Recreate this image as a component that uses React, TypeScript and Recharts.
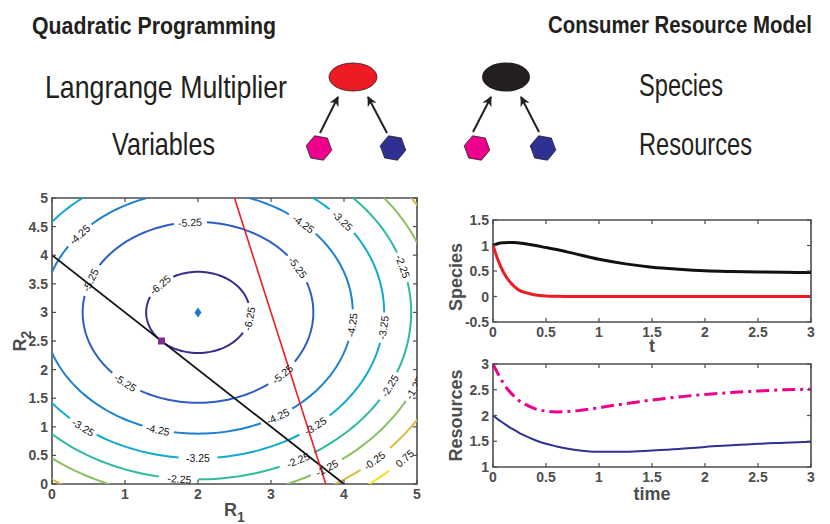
import React from "react";
import { ComposedChart, LineChart, Line, Scatter, XAxis, YAxis, ReferenceArea } from "recharts";

// ---- contour panel (quadratic programming) ----
const contourLevels = [-6.25, -5.25, -4.25, -3.25, -2.25, -1.25, -0.25, 0.75];
const contourRadii = [0.71, 1.58, 2.12, 2.55, 2.92, 3.24, 3.54, 3.81];
const contourColors = ["#382c8c", "#2d5cc2", "#1f80d0", "#12a9cf", "#2fb9a0", "#88c061", "#d8b842", "#f4e01e"];
// angle (deg, around the optimum) where each level carries a text label
const contourLabelAngles = [
  [137, -9],
  [94, 159, 30, -43, 231],
  [140, 47, -6, -59, 255],
  [39, -6, -51, 232, 270],
  [16, -26, -62, 265],
  [-24, -57],
  [-47],
  [-42],
];
const optimum = [{ x: 2, y: 3 }];
const solution = [{ x: 1.5, y: 2.5 }];
const constraintBlack = [{ x: 0, y: 4 }, { x: 4, y: 0 }];
const constraintRed = [{ x: 2.5, y: 5 }, { x: 3.75, y: 0 }];
const r1Ticks = [0, 1, 2, 3, 4, 5];
const r2Ticks = [0, 0.5, 1, 1.5, 2, 2.5, 3, 3.5, 4, 4.5, 5];

// ---- time series panels ----
const time = [0, 0.05, 0.1, 0.15, 0.2, 0.25, 0.3, 0.4, 0.5, 0.6, 0.75, 1, 1.25, 1.5, 1.75, 2, 2.25, 2.5, 2.75, 3];
const speciesBlack = [1, 1.04, 1.055, 1.06, 1.058, 1.05, 1.035, 1.0, 0.96, 0.92, 0.85, 0.73, 0.64, 0.575, 0.535, 0.505, 0.49, 0.48, 0.475, 0.47];
const speciesRed = [1, 0.7, 0.47, 0.31, 0.2, 0.12, 0.08, 0.03, 0.01, 0.004, 0, 0, 0, 0, 0, 0, 0, 0, 0, 0];
const resourcePink = [3, 2.8, 2.62, 2.48, 2.37, 2.28, 2.22, 2.13, 2.085, 2.07, 2.085, 2.15, 2.23, 2.3, 2.36, 2.41, 2.445, 2.475, 2.5, 2.51];
const resourceBlue = [2, 1.92, 1.85, 1.78, 1.72, 1.66, 1.61, 1.52, 1.45, 1.4, 1.34, 1.295, 1.295, 1.32, 1.35, 1.39, 1.42, 1.45, 1.47, 1.49];
const timeTicks = [0, 0.5, 1, 1.5, 2, 2.5, 3];
const speciesTicks = [-0.5, 0, 0.5, 1, 1.5];
const resourceTicks = [1, 1.5, 2, 2.5, 3];

const AXIS = "#4d4d4d";
const TICK_FONT = "'Liberation Sans', Arial, Helvetica, sans-serif";
const LABEL_FONT = "'Liberation Sans Narrow', 'Liberation Sans', Arial, sans-serif";

// contour plot geometry (px per data unit)
const CW = 430, CH = 344;
const CM = { top: 18, right: 13, bottom: 0, left: 0 };
const C_XAXIS_H = 40, C_YAXIS_W = 52;
const C_PLOT_W = CW - CM.left - CM.right - C_YAXIS_W;
const C_PLOT_H = CH - CM.top - CM.bottom - C_XAXIS_H;
const KX = C_PLOT_W / 5, KY = C_PLOT_H / 5;
const GAP = 15;

const center = optimum[0];

function contourPoints(r: number, thetas: number[]) {
  const lbl = thetas.map((t) => ({
    x: center.x + r * Math.cos((t * Math.PI) / 180),
    y: center.y + r * Math.sin((t * Math.PI) / 180),
  }));
  const pts: { x: number; y: number | null }[] = [];
  for (let a = 0; a <= 360; a += 1.5) {
    const rad = (a * Math.PI) / 180;
    const x = center.x + r * Math.cos(rad);
    const y = center.y + r * Math.sin(rad);
    const hide = lbl.some((p) => Math.hypot((x - p.x) * KX, (y - p.y) * KY) < GAP);
    pts.push({ x, y: hide ? null : y });
  }
  return pts;
}

const contourLabels = contourLevels.flatMap((lv, i) =>
  contourLabelAngles[i].map((t) => ({
    x: center.x + contourRadii[i] * Math.cos((t * Math.PI) / 180),
    y: center.y + contourRadii[i] * Math.sin((t * Math.PI) / 180),
    theta: t,
    text: String(lv),
  }))
);

const ContourLabel = (props: any) => {
  const { cx, cy, payload } = props;
  const th = (payload.theta * Math.PI) / 180;
  let ang = (Math.atan2(-Math.cos(th) * KY, -Math.sin(th) * KX) * 180) / Math.PI;
  if (ang > 90) ang -= 180;
  if (ang <= -90) ang += 180;
  return (
    <text x={cx} y={cy} transform={`rotate(${ang} ${cx} ${cy})`} textAnchor="middle" dominantBaseline="central"
      fontSize={10.5} fontFamily={TICK_FONT} fill="#111">
      {payload.text}
    </text>
  );
};

const Diamond = (props: any) => {
  const { cx, cy } = props;
  return <polygon points={`${cx},${cy - 5} ${cx + 3.5},${cy} ${cx},${cy + 5} ${cx - 3.5},${cy}`} fill="#1f77c8" />;
};
const Square = (props: any) => {
  const { cx, cy } = props;
  return <rect x={cx - 3.5} y={cy - 3.5} width={7} height={7} fill="#7e2f8e" />;
};

// MATLAB style ticks: marks inside the box on both sides, labels outside
function bottomTick(plotTop: number, len: number) {
  return (props: any) => {
    const { x, y, payload } = props;
    return (
      <g>
        <line x1={x} y1={y} x2={x} y2={y - len} stroke={AXIS} strokeWidth={1.2} />
        <line x1={x} y1={plotTop} x2={x} y2={plotTop + len} stroke={AXIS} strokeWidth={1.2} />
        <text x={x} y={y + 15} textAnchor="middle" fontSize={14} fontWeight="bold" fontFamily={TICK_FONT} fill={AXIS}>
          {payload.value}
        </text>
      </g>
    );
  };
}
function leftTick(plotRight: number, len: number) {
  return (props: any) => {
    const { x, y, payload } = props;
    return (
      <g>
        <line x1={x} y1={y} x2={x + len} y2={y} stroke={AXIS} strokeWidth={1.2} />
        <line x1={plotRight} y1={y} x2={plotRight - len} y2={y} stroke={AXIS} strokeWidth={1.2} />
        <text x={x - 4} y={y} textAnchor="end" dominantBaseline="central" fontSize={14} fontWeight="bold" fontFamily={TICK_FONT} fill={AXIS}>
          {payload.value}
        </text>
      </g>
    );
  };
}

const XTitle = (props: any) => {
  const { viewBox, text, sub, dy } = props;
  const cx = viewBox.x + viewBox.width / 2;
  return (
    <text x={cx} y={viewBox.y + dy} textAnchor="middle" fontSize={18} fontWeight="bold" fontFamily={TICK_FONT} fill={AXIS}>
      {text}
      {sub ? <tspan dy={6} fontSize={14}>{sub}</tspan> : null}
    </text>
  );
};
const YTitle = (props: any) => {
  const { viewBox, text, sub, xPos, shift = 0 } = props;
  const cy = viewBox.y + viewBox.height / 2 + shift;
  return (
    <text x={xPos} y={cy} transform={`rotate(-90 ${xPos} ${cy})`} textAnchor="middle" dominantBaseline="central"
      fontSize={18} fontWeight="bold" fontFamily={TICK_FONT} fill={AXIS}>
      {text}
      {sub ? <tspan dy={6} fontSize={14}>{sub}</tspan> : null}
    </text>
  );
};

function ContourPanel() {
  const plotRight = CM.left + C_YAXIS_W + C_PLOT_W;
  return (
    <ComposedChart width={CW} height={CH} margin={CM}>
      <XAxis dataKey="x" type="number" domain={[0, 5]} ticks={r1Ticks} allowDataOverflow height={C_XAXIS_H}
        axisLine={false} tickSize={0} tickMargin={0} interval={0} tick={bottomTick(CM.top, 4)}
        label={<XTitle text="R" sub="1" dy={32} />} />
      <YAxis dataKey="y" type="number" domain={[0, 5]} ticks={r2Ticks} allowDataOverflow width={C_YAXIS_W}
        axisLine={false} tickSize={0} tickMargin={0} interval={0} tick={leftTick(plotRight, 4)}
        label={<YTitle text="R" sub="2" xPos={20} />} />
      {contourLevels.map((lv, i) => (
        <Line key={lv} data={contourPoints(contourRadii[i], contourLabelAngles[i])} dataKey="y" type="linear"
          stroke={contourColors[i]} strokeWidth={2} dot={false} connectNulls={false} isAnimationActive={false} />
      ))}
      <Scatter data={contourLabels} dataKey="y" shape={ContourLabel} isAnimationActive={false} />
      <Line data={constraintBlack} dataKey="y" type="linear" stroke="#111" strokeWidth={1.8} dot={false} isAnimationActive={false} />
      <Line data={constraintRed} dataKey="y" type="linear" stroke="#ee1c24" strokeWidth={1.6} dot={false} isAnimationActive={false} />
      <Scatter data={optimum} dataKey="y" shape={Diamond} isAnimationActive={false} />
      <Scatter data={solution} dataKey="y" shape={Square} isAnimationActive={false} />
      <ReferenceArea x1={0} x2={5} y1={0} y2={5} fill="none" fillOpacity={0} stroke={AXIS} strokeWidth={1.6} ifOverflow="visible" />
    </ComposedChart>
  );
}

const speciesRows = time.map((t, i) => ({ t, black: speciesBlack[i], red: speciesRed[i] }));
const resourceRows = time.map((t, i) => ({ t, pink: resourcePink[i], blue: resourceBlue[i] }));

function SpeciesPanel() {
  const m = { top: 20, right: 19, bottom: 0, left: 0 };
  const plotRight = 390 - m.right;
  return (
    <LineChart width={390} height={160} data={speciesRows} margin={m}>
      <XAxis dataKey="t" type="number" domain={[0, 3]} ticks={timeTicks} height={38} axisLine={false}
        tickSize={0} tickMargin={0} interval={0} tick={bottomTick(m.top, 4)} label={<XTitle text="t" dy={30} />} />
      <YAxis type="number" domain={[-0.5, 1.5]} ticks={speciesTicks} width={53} axisLine={false}
        tickSize={0} tickMargin={0} interval={0} tick={leftTick(plotRight, 4)}
        label={<YTitle text="Species" xPos={16} shift={6} />} />
      <Line dataKey="black" type="monotone" stroke="#111" strokeWidth={3} dot={false} isAnimationActive={false} />
      <Line dataKey="red" type="monotone" stroke="#ee1c24" strokeWidth={3} dot={false} isAnimationActive={false} />
      <ReferenceArea x1={0} x2={3} y1={-0.5} y2={1.5} fill="none" fillOpacity={0} stroke={AXIS} strokeWidth={1.6} ifOverflow="visible" />
    </LineChart>
  );
}

function ResourcePanel() {
  const m = { top: 19, right: 19, bottom: 0, left: 0 };
  const plotRight = 390 - m.right;
  return (
    <LineChart width={390} height={179} data={resourceRows} margin={m}>
      <XAxis dataKey="t" type="number" domain={[0, 3]} ticks={timeTicks} height={57} axisLine={false}
        tickSize={0} tickMargin={0} interval={0} tick={bottomTick(m.top, 4)} label={<XTitle text="time" dy={33} />} />
      <YAxis type="number" domain={[1, 3]} ticks={resourceTicks} width={53} axisLine={false}
        tickSize={0} tickMargin={0} interval={0} tick={leftTick(plotRight, 4)}
        label={<YTitle text="Resources" xPos={16} />} />
      <Line dataKey="pink" type="monotone" stroke="#ec008c" strokeWidth={3} strokeDasharray="13 5 3 5" dot={false} isAnimationActive={false} />
      <Line dataKey="blue" type="monotone" stroke="#2e3192" strokeWidth={2} dot={false} isAnimationActive={false} />
      <ReferenceArea x1={0} x2={3} y1={1} y2={3} fill="none" fillOpacity={0} stroke={AXIS} strokeWidth={1.6} ifOverflow="visible" />
    </LineChart>
  );
}

function hexagon(cx: number, cy: number, r: number) {
  const pts: string[] = [];
  for (let k = 0; k < 6; k++) {
    const a = ((10 + 60 * k) * Math.PI) / 180;
    pts.push(`${cx + r * Math.cos(a)},${cy + r * Math.sin(a)}`);
  }
  return pts.join(" ");
}

function Schematic() {
  const txt = { fontFamily: LABEL_FONT, fill: "#231f20" } as const;
  return (
    <svg width={830} height={180} style={{ position: "absolute", left: 0, top: 0 }}>
      <defs>
        <marker id="ah" viewBox="0 0 10 10" refX="9" refY="5" markerWidth="5" markerHeight="5" orient="auto">
          <path d="M0,0 L10,5 L0,10 L3,5 z" fill="#231f20" />
        </marker>
      </defs>
      <text x={32} y={34} fontSize={23} fontWeight="bold" textLength={244} lengthAdjust="spacingAndGlyphs" {...txt}>Quadratic Programming</text>
      <text x={548} y={33} fontSize={23} fontWeight="bold" textLength={264} lengthAdjust="spacingAndGlyphs" {...txt}>Consumer Resource Model</text>
      <text x={45} y={98} fontSize={32} textLength={242} lengthAdjust="spacingAndGlyphs" {...txt}>Langrange Multiplier</text>
      <text x={112} y={155} fontSize={32} textLength={103} lengthAdjust="spacingAndGlyphs" {...txt}>Variables</text>
      <text x={639} y={96} fontSize={32} textLength={84} lengthAdjust="spacingAndGlyphs" {...txt}>Species</text>
      <text x={639} y={155} fontSize={32} textLength={113} lengthAdjust="spacingAndGlyphs" {...txt}>Resources</text>

      <ellipse cx={353} cy={77} rx={24} ry={14} fill="#ed1c24" stroke="#231f20" strokeWidth={0.8} />
      <ellipse cx={506} cy={77} rx={24} ry={14.5} fill="#231f20" />
      <polygon points={hexagon(319, 148, 13)} fill="#ec008c" stroke="#231f20" strokeWidth={0.8} />
      <polygon points={hexagon(393, 148, 13)} fill="#2e3192" stroke="#231f20" strokeWidth={0.8} />
      <polygon points={hexagon(477, 148, 13)} fill="#ec008c" stroke="#231f20" strokeWidth={0.8} />
      <polygon points={hexagon(543, 148, 13)} fill="#2e3192" stroke="#231f20" strokeWidth={0.8} />

      <line x1={320} y1={133} x2={338} y2={97} stroke="#231f20" strokeWidth={2} markerEnd="url(#ah)" />
      <line x1={387} y1={133} x2={368} y2={97} stroke="#231f20" strokeWidth={2} markerEnd="url(#ah)" />
      <line x1={473} y1={132} x2={491} y2={97} stroke="#231f20" strokeWidth={2} markerEnd="url(#ah)" />
      <line x1={539} y1={132} x2={521} y2={97} stroke="#231f20" strokeWidth={2} markerEnd="url(#ah)" />
    </svg>
  );
}

export default function App() {
  return (
    <div style={{ position: "absolute", left: 0, top: 0, width: 830, height: 524, background: "#fff", overflow: "hidden" }}>
      <Schematic />
      <div style={{ position: "absolute", left: 0, top: 180 }}>
        <ContourPanel />
      </div>
      <div style={{ position: "absolute", left: 440, top: 200 }}>
        <SpeciesPanel />
      </div>
      <div style={{ position: "absolute", left: 440, top: 345 }}>
        <ResourcePanel />
      </div>
    </div>
  );
}
